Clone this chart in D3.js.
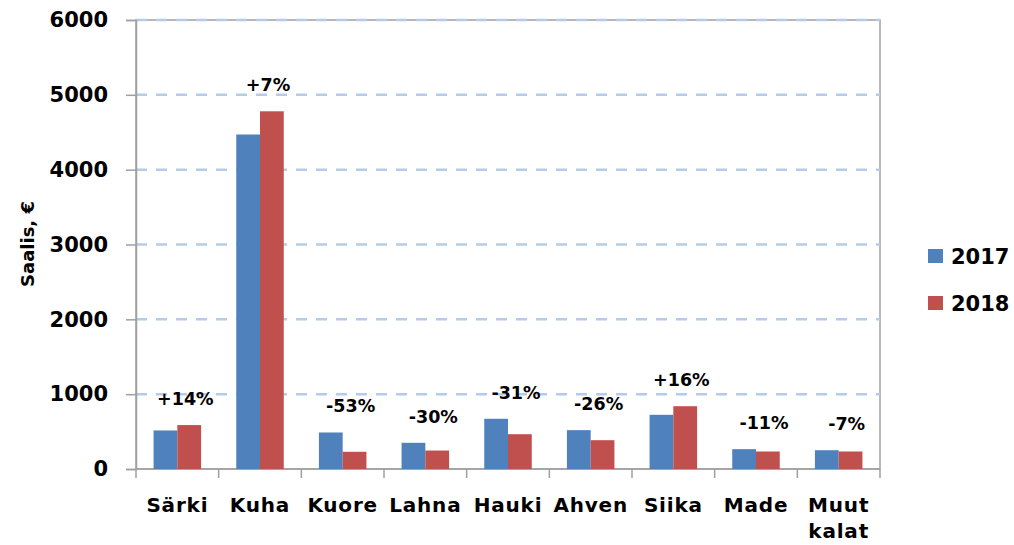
<!DOCTYPE html>
<html>
<head>
<meta charset="utf-8">
<script src="https://cdn.jsdelivr.net/npm/d3@7"></script>
<style>
  body { margin: 0; background: #fff; }
  text { font-family: "DejaVu Sans", Verdana, sans-serif; font-weight: bold; fill: #000; }
</style>
</head>
<body>
<div id="chart"></div>
<script>
// Saalis by species, 2017 vs 2018
const species = ["Särki", "Kuha", "Kuore", "Lahna", "Hauki", "Ahven", "Siika", "Made", "Muut kalat"];
const years = ["2017", "2018"];
const catch2017 = [515, 4470, 488, 350, 671, 519, 724, 265, 251];
const catch2018 = [587, 4780, 230, 247, 465, 385, 839, 234, 234];
const changeLabels = ["+14%", "+7%", "-53%", "-30%", "-31%", "-26%", "+16%", "-11%", "-7%"];
const yTicks = [0, 1000, 2000, 3000, 4000, 5000, 6000];

const colors = ["#4f81bd", "#c0504d"];

const W = 1014, H = 545;
const margin = { top: 20, right: 134, bottom: 76, left: 136 };
const width = W - margin.left - margin.right;
const height = H - margin.top - margin.bottom;

const svg = d3.select("#chart")
  .append("svg")
  .attr("width", W)
  .attr("height", H);

const g = svg.append("g")
  .attr("transform", `translate(${margin.left}, ${margin.top})`);

// scales
const x0 = d3.scaleBand()
  .domain(species)
  .range([0, width])
  .paddingInner(0)
  .paddingOuter(0);

const x1 = d3.scaleBand()
  .domain(years)
  .range([0, x0.bandwidth()])
  .paddingInner(0)
  .paddingOuter(0.74);

const y = d3.scaleLinear()
  .domain([0, 6000])
  .range([height, 0]);

// plot area frame
g.append("rect")
  .attr("x", 0).attr("y", 0)
  .attr("width", width).attr("height", height)
  .attr("fill", "none")
  .attr("stroke", "#a0a0a0")
  .attr("stroke-width", 1.5);

// grid lines
g.selectAll(".grid")
  .data(yTicks.filter(d => d > 0))
  .enter().append("line")
  .attr("x1", 0).attr("x2", width)
  .attr("y1", d => y(d)).attr("y2", d => y(d))
  .attr("stroke", "#b6cbea")
  .attr("stroke-width", 2.5)
  .style("stroke-dasharray", "11,9");

// y axis
const yAxis = g.append("g")
  .call(d3.axisLeft(y).tickValues(yTicks).tickSize(10).tickPadding(18).tickFormat(d3.format("d")));
yAxis.select(".domain").attr("stroke", "#a0a0a0").attr("stroke-width", 1.5);
yAxis.selectAll(".tick line").attr("stroke", "#a0a0a0").attr("stroke-width", 1.5);
yAxis.selectAll(".tick text")
  .style("font-size", "21px")
  .style("font-family", "DejaVu Sans, Verdana, sans-serif")
  .style("font-weight", "bold")
  .attr("fill", "#000");

// x axis baseline + category separators
g.append("line")
  .attr("x1", 0).attr("x2", width)
  .attr("y1", height).attr("y2", height)
  .attr("stroke", "#a0a0a0").attr("stroke-width", 1.5);

g.selectAll(".sep")
  .data(d3.range(species.length + 1))
  .enter().append("line")
  .attr("x1", i => i * x0.step()).attr("x2", i => i * x0.step())
  .attr("y1", height).attr("y2", height + 9)
  .attr("stroke", "#a0a0a0").attr("stroke-width", 1.5);

// category labels (may wrap to two lines)
g.selectAll(".cat")
  .data(species)
  .enter().append("text")
  .attr("class", "cat")
  .attr("text-anchor", "middle")
  .attr("transform", d => `translate(${x0(d) + x0.bandwidth() / 2}, ${height + 43})`)
  .style("font-size", "20px")
  .style("letter-spacing", "0.8px")
  .each(function(d) {
    const lines = d.split(" ");
    d3.select(this).selectAll("tspan")
      .data(lines)
      .enter().append("tspan")
      .attr("x", 0)
      .attr("dy", (l, i) => i === 0 ? 0 : 26)
      .text(l => l);
  });

// bars
const rows = species.map((s, i) => ({ s, vals: [catch2017[i], catch2018[i]], label: changeLabels[i] }));

const grp = g.selectAll(".grp")
  .data(rows)
  .enter().append("g")
  .attr("transform", d => `translate(${x0(d.s)}, 0)`);

grp.selectAll("rect")
  .data(d => d.vals.map((v, k) => ({ year: years[k], v, k })))
  .enter().append("rect")
  .attr("x", d => x1(d.year))
  .attr("y", d => y(d.v))
  .attr("width", x1.bandwidth())
  .attr("height", d => height - y(d.v))
  .attr("fill", d => colors[d.k]);

// percent change labels
grp.append("text")
  .attr("x", x0.bandwidth() / 2 + 8)
  .attr("y", d => y(d3.max(d.vals)) - 20)
  .attr("text-anchor", "middle")
  .style("font-size", "17.5px")
  .text(d => d.label);

// y axis title
svg.append("text")
  .attr("transform", `translate(34, 244) rotate(-90)`)
  .attr("text-anchor", "middle")
  .style("font-size", "18px")
  .text("Saalis, €");

// legend
const legend = svg.append("g")
  .attr("transform", "translate(928, 256)");

legend.selectAll("rect")
  .data(years)
  .enter().append("rect")
  .attr("x", 0)
  .attr("y", (d, i) => i * 47 - 7)
  .attr("width", 15)
  .attr("height", 14)
  .attr("fill", (d, i) => colors[i]);

legend.selectAll("text")
  .data(years)
  .enter().append("text")
  .attr("x", 23)
  .attr("y", (d, i) => i * 47 + 8)
  .style("font-size", "21px")
  .text(d => d);
</script>
</body>
</html>
